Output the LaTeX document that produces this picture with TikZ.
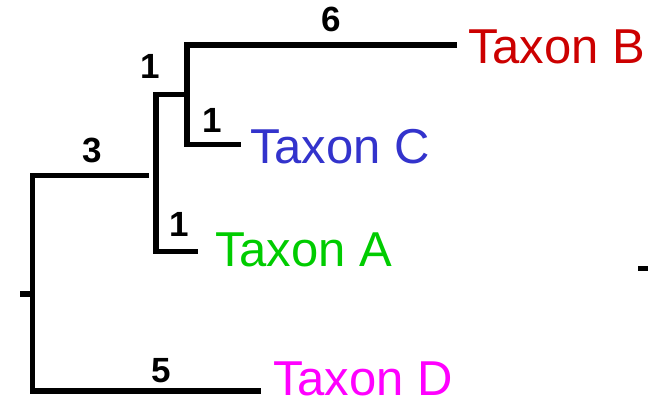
\documentclass[tikz,border=0pt]{standalone}
\usepackage{fontspec}
\setmainfont{Liberation Sans}
\definecolor{taxB}{HTML}{CC0000}
\definecolor{taxC}{HTML}{3333CC}
\definecolor{taxA}{HTML}{00CC00}
\definecolor{taxD}{HTML}{FF00FF}
\tikzset{
  branch/.style={draw=black, line width=5.5pt, line join=miter},
  taxon/.style={inner sep=0pt, anchor=base west, text depth=0pt, font=\fontsize{49}{52}\selectfont},
  blen/.style={inner sep=0pt, anchor=base, font=\bfseries\fontsize{35}{37}\selectfont}
}
\begin{document}
\begin{tikzpicture}[x=1pt, y=-1pt]
  \useasboundingbox (0,0) rectangle (648,402);

  % internal nodes and branch ends
  \coordinate (rtick) at (20,294);
  \coordinate (r)     at (32.5,294);
  \coordinate (rt)    at (32.5,175.5);
  \coordinate (rb)    at (32.5,391);
  \coordinate (abc)   at (149,175.5);
  \coordinate (dend)  at (261,391);
  \coordinate (ut)    at (156,94.5);
  \coordinate (ub)    at (156,251.5);
  \coordinate (aend)  at (198,251.5);
  \coordinate (v)     at (187,94.5);
  \coordinate (vt)    at (187,45);
  \coordinate (vb)    at (187,144.5);
  \coordinate (bend)  at (457,45);
  \coordinate (cend)  at (241,144.5);

  % branches
  \draw[branch] (rtick) -- (r);
  \draw[branch] (abc) -- (rt) -- (rb) -- (dend);
  \draw[branch] (v) -- (ut) -- (ub) -- (aend);
  \draw[branch] (bend) -- (vt) -- (vb) -- (cend);

  % taxa
  \node[taxon, text=taxB] (tb) at (468,63)  {Taxon B};
  \node[taxon, text=taxC] (tc) at (250,163) {Taxon C};
  \node[taxon, text=taxA] (ta) at (215,266) {Taxon A};
  \node[taxon, text=taxD] (td) at (273,395) {Taxon D};

  % branch lengths
  \node[blen] (l6)  at (331,31)  {6};
  \node[blen] (l1u) at (150,78)  {1};
  \node[blen] (l1c) at (212,132) {1};
  \node[blen] (l3)  at (92,162)  {3};
  \node[blen] (l1a) at (179,236) {1};
  \node[blen] (l5)  at (161,382) {5};

  % edge mark at the right
  \fill[black] (638,265.5) rectangle (648,270.5);
\end{tikzpicture}
\end{document}
